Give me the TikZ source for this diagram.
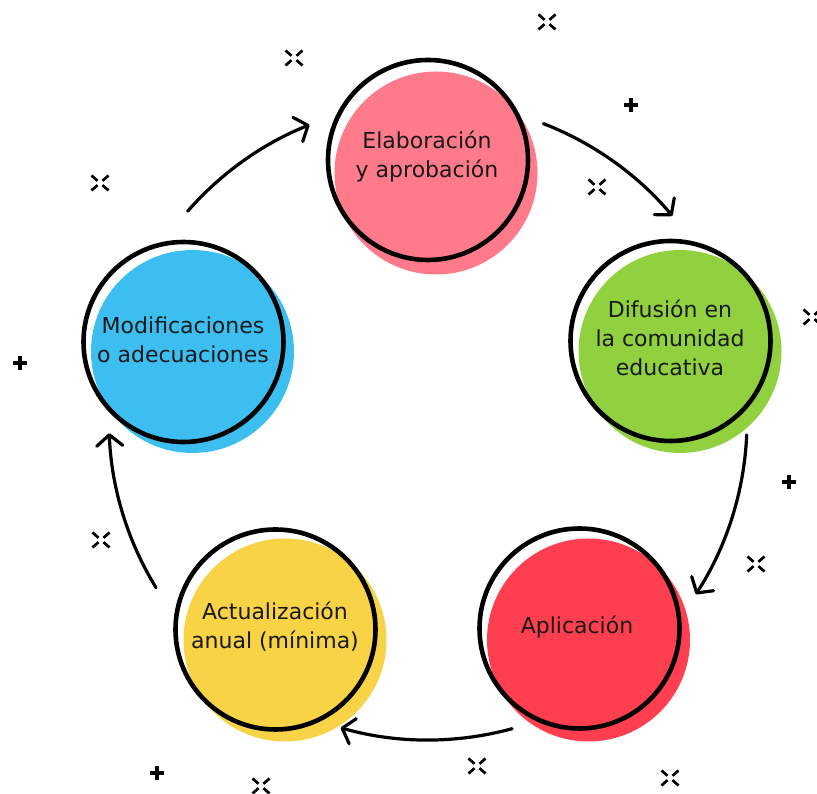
\documentclass[tikz,border=0pt]{standalone}
\usepackage{fontspec}
\setmainfont{DejaVu Sans}
\usetikzlibrary{arrows.meta}
\definecolor{cpink}{RGB}{255,123,139}
\definecolor{cgreen}{RGB}{145,208,62}
\definecolor{cred}{RGB}{255,62,79}
\definecolor{cyellow}{RGB}{247,211,69}
\definecolor{cblue}{RGB}{60,190,240}
\begin{document}
\begin{tikzpicture}[x=1pt,y=1pt,
  blob/.style={circle,inner sep=0pt,minimum size=203pt,draw=none},
  ring/.style={circle,inner sep=0pt,minimum size=200pt,draw=black,line width=4.6pt},
  lbl/.style={align=center,font=\fontsize{22}{29}\selectfont,text=black!90,inner sep=0pt},
  cyc/.style={line width=3.2pt,line cap=round,-{Straight Barb[length=11pt,width=26pt,round]}},
  spark/.pic={\foreach \sx in {-1,1}{\foreach \sy in {-1,1}{\draw[line width=2.7pt] (2.5*\sx,2.2*\sy) -- (8.5*\sx,7.5*\sy);}}},
  plusmark/.pic={\draw[line width=3.2pt] (-7,0) -- (7,0) (0,-7) -- (0,7);}]
\useasboundingbox (0,0) rectangle (817,794);
% coloured discs
\node[blob,fill=cpink]   (f1) at (436,621) {};
\node[blob,fill=cgreen]  (f2) at (680,442.5) {};
\node[blob,fill=cred]    (f3) at (588.5,154) {};
\node[blob,fill=cyellow] (f4) at (285,154) {};
\node[blob,fill=cblue]   (f5) at (192.5,442.5) {};
% outlines
\node[ring] (r1) at (428,634) {};
\node[ring] (r2) at (670.5,453) {};
\node[ring] (r3) at (579.5,165.5) {};
\node[ring] (r4) at (275.5,164.5) {};
\node[ring] (r5) at (183.5,452) {};
% labels
\node[lbl] (t1) at (427,637) {Elaboración\\y aprobación};
\node[lbl] (t2) at (670,456) {Difusión en\\la comunidad\\educativa};
\node[lbl] (t3) at (577,167) {Aplicación};
\node[lbl] (t4) at (275,167) {Actualización\\anual (mínima)};
\node[lbl] (t5) at (183,454) {Modificaciones\\o adecuaciones};
% cycle arrows
\coordinate (C) at (428,373);
\path (C) ++(138.9:319pt) coordinate (a1);
\path (C) ++(68.8:319pt) coordinate (a2);
\path (C) ++(-2.5:319pt) coordinate (a3);
\path (C) ++(-74.7:319pt) coordinate (a4);
\path (C) ++(-148.5:319pt) coordinate (a5);
\draw[cyc] (a1) arc[start angle=138.9,end angle=111.8,radius=319pt];
\draw[cyc] (a2) arc[start angle=68.8,end angle=40.0,radius=319pt];
\draw[cyc] (a3) arc[start angle=-2.5,end angle=-32.9,radius=319pt];
\draw[cyc] (a4) arc[start angle=-74.7,end angle=-105.9,radius=319pt];
\draw[cyc] (a5) arc[start angle=-148.5,end angle=-177.8,radius=319pt];
% decorations
\foreach \p in {(547,772),(294,736),(100,611),(597,607),(812,477),(756,230),(101,254),(477,28),(670,16),(261,8)}
  \pic at \p {spark};
\foreach \p in {(631,689),(20,431),(789,312),(157,21)}
  \pic at \p {plusmark};
\end{tikzpicture}
\end{document}
